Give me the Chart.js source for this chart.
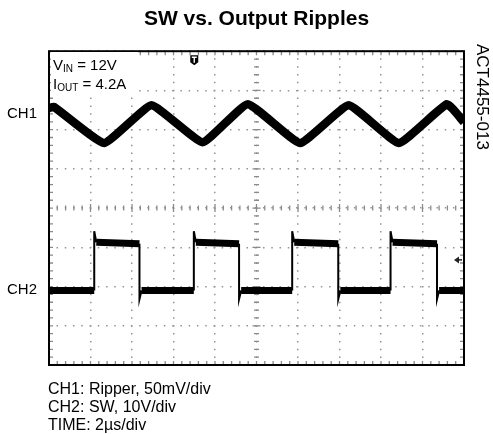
<!DOCTYPE html>
<html>
<head>
<meta charset="utf-8">
<title>SW vs. Output Ripples</title>
<script src="https://cdn.jsdelivr.net/npm/chart.js@4"></script>
<style>
  body { margin: 0; background: #fff; }
  #wrap { position: relative; width: 493px; height: 434px; font-family: Arial, "Liberation Sans", sans-serif; color: #000; }
  #scope { position: absolute; left: 0; top: 0; }
  .lbl { position: absolute; font-size: 15px; line-height: 15px; white-space: nowrap; }
  .lbl sub { font-size: 10px; vertical-align: -2px; line-height: 0; }
  #cond { position: absolute; left: 51px; top: 52px; width: 87px; height: 42px; background: #fff; }
  #code { position: absolute; left: 491px; top: 44px; font-size: 17px; line-height: 17px; transform: rotate(90deg); transform-origin: 0 0; white-space: nowrap; }
  #notes { position: absolute; left: 48px; top: 380px; font-size: 16px; line-height: 18px; white-space: nowrap; }
</style>
</head>
<body>
<div id="wrap">
  <canvas id="scope" width="493" height="434"></canvas>
  <div id="cond"></div>
  <div class="lbl" style="left:53px; top:57px;">V<sub>IN</sub> = 12V</div>
  <div class="lbl" style="left:53px; top:76px;">I<sub>OUT</sub> = 4.2A</div>
  <div class="lbl" style="left:7px; top:105px;">CH1</div>
  <div class="lbl" style="left:7px; top:281px;">CH2</div>
  <div id="code">ACT4455-013</div>
  <div id="notes">CH1: Ripper, 50mV/div<br>CH2: SW, 10V/div<br>TIME: 2µs/div</div>
</div>
<script>
// time axis in divisions, voltage axis in divisions (8 div tall, centre = 0)
const rippleX = [0, 0.12, 1.33, 2.47, 3.70, 4.79, 6.05, 7.22, 8.43, 9.59, 10];
const rippleY = [2.55, 2.58, 1.66, 2.62, 1.68, 2.65, 1.66, 2.62, 1.66, 2.65, 2.19];

const swX = [0, 1.09, 1.09, 1.14, 2.18, 2.18, 2.23, 3.49, 3.49, 3.54, 4.58, 4.58, 4.63,
             5.86, 5.86, 5.91, 6.97, 6.97, 7.02, 8.23, 8.23, 8.28, 9.35, 9.35, 9.40, 10];
const swY = [-2.1, -2.1, -0.59, -0.87, -0.91, -2.32, -2.1, -2.1, -0.59, -0.87, -0.91, -2.32, -2.1,
             -2.1, -0.59, -0.87, -0.91, -2.32, -2.1, -2.1, -0.59, -0.87, -0.91, -2.32, -2.1, -2.1];

const xDivs = [0, 10];
const yDivs = [-4, 4];
const triggerX = 3.5;
const ch2RefY = -1.32;

function toPoints(xs, ys) {
    return xs.map((v, i) => ({ x: v, y: ys[i] }));
}

// graticule ticks, frame and scope markers
const scopeDecor = {
    id: 'scopeDecor',
    beforeDatasetsDraw(chart) {
        const { ctx, chartArea: a, scales: { x, y } } = chart;
        const y0 = y.getPixelForValue(0);
        const x0 = x.getPixelForValue(5);
        ctx.save();
        ctx.strokeStyle = '#8a8a8a';
        ctx.lineWidth = 1.3;
        ctx.beginPath();
        for (let i = 0; i <= 50; i++) {
            const px = x.getPixelForValue(i / 5);
            const len = i % 5 === 0 ? 4 : 2.5;
            ctx.moveTo(px, y0 - len); ctx.lineTo(px, y0 + len);
            ctx.moveTo(px, a.top); ctx.lineTo(px, a.top + 4);
            ctx.moveTo(px, a.bottom); ctx.lineTo(px, a.bottom - 4);
        }
        for (let i = 0; i <= 40; i++) {
            const py = y.getPixelForValue(-4 + i / 5);
            const len = i % 5 === 0 ? 4 : 2.5;
            ctx.moveTo(x0 - len, py); ctx.lineTo(x0 + len, py);
            ctx.moveTo(a.left, py); ctx.lineTo(a.left + 4, py);
            ctx.moveTo(a.right, py); ctx.lineTo(a.right - 4, py);
        }
        ctx.stroke();
        ctx.restore();
    },
    afterDatasetsDraw(chart) {
        const { ctx, chartArea: a, scales: { x, y } } = chart;
        ctx.save();
        // frame
        ctx.strokeStyle = '#000';
        ctx.lineWidth = 2;
        ctx.strokeRect(a.left, a.top, a.right - a.left, a.bottom - a.top);

        // trigger position marker
        const tx = x.getPixelForValue(triggerX);
        const ty = a.top + 4;
        ctx.fillStyle = '#000';
        ctx.beginPath();
        ctx.moveTo(tx - 4, ty);
        ctx.lineTo(tx + 4, ty);
        ctx.lineTo(tx + 4, ty + 7);
        ctx.lineTo(tx, ty + 10);
        ctx.lineTo(tx - 4, ty + 7);
        ctx.closePath();
        ctx.fill();
        ctx.strokeStyle = '#fff';
        ctx.lineWidth = 1.4;
        ctx.beginPath();
        ctx.moveTo(tx - 2.5, ty + 2); ctx.lineTo(tx + 2.5, ty + 2);
        ctx.moveTo(tx, ty + 2); ctx.lineTo(tx, ty + 7.5);
        ctx.stroke();

        // CH2 trigger level arrow
        const ay = y.getPixelForValue(ch2RefY);
        const ax = a.right - 10;
        ctx.fillStyle = '#222';
        ctx.beginPath();
        ctx.moveTo(ax, ay);
        ctx.lineTo(ax + 5, ay - 3.5);
        ctx.lineTo(ax + 5, ay + 3.5);
        ctx.closePath();
        ctx.fill();
        ctx.strokeStyle = '#222';
        ctx.lineWidth = 1.5;
        ctx.beginPath();
        ctx.moveTo(ax + 4, ay); ctx.lineTo(ax + 8, ay);
        ctx.stroke();
        ctx.restore();
    }
};

const gridDots = { color: '#949494', lineWidth: 1.5, drawTicks: false };

new Chart(document.getElementById('scope'), {
    type: 'line',
    data: {
        datasets: [{
            label: 'CH1 ripple',
            data: toPoints(rippleX, rippleY),
            borderColor: '#000',
            borderWidth: 8.5,
            borderJoinStyle: 'round',
            borderCapStyle: 'butt',
            pointRadius: 0,
            tension: 0.12
        }, {
            label: 'CH2 SW',
            data: toPoints(swX, swY),
            borderColor: '#000',
            borderWidth: 7,
            borderJoinStyle: 'miter',
            borderCapStyle: 'butt',
            pointRadius: 0,
            tension: 0,
            segment: {
                borderWidth: c => Math.abs(c.p1.parsed.x - c.p0.parsed.x) < 0.3 ? 2 : 7
            }
        }]
    },
    options: {
        responsive: false,
        animation: false,
        events: [],
        layout: { padding: { left: 49, right: 29, top: 0, bottom: 69 } },
        plugins: {
            legend: { display: false },
            tooltip: { enabled: false },
            title: {
                display: true,
                text: 'SW vs. Output Ripples',
                color: '#000',
                font: { family: 'Arial, "Liberation Sans", sans-serif', size: 21, weight: 'bold' },
                padding: { top: 7, bottom: 19 }
            }
        },
        scales: {
            x: {
                type: 'linear',
                min: xDivs[0], max: xDivs[1],
                ticks: { display: false, stepSize: 1 },
                grid: gridDots,
                border: { display: false, dash: [1.5, 6.35], dashOffset: 0.75 }
            },
            y: {
                type: 'linear',
                min: yDivs[0], max: yDivs[1],
                ticks: { display: false, stepSize: 1 },
                grid: gridDots,
                border: { display: false, dash: [1.5, 6.76], dashOffset: 0.75 }
            }
        }
    },
    plugins: [scopeDecor]
});
</script>
</body>
</html>
